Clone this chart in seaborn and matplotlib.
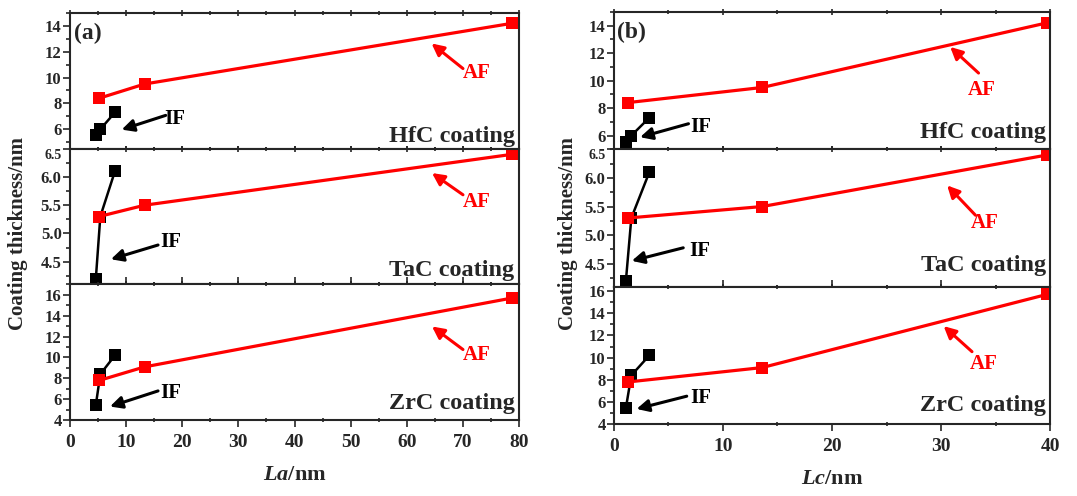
import numpy as np
import pandas as pd
import seaborn as sns
import matplotlib.pyplot as plt
from matplotlib.ticker import MultipleLocator

# === Data ===
la_if = [4.6, 5.4, 8.0]
la_af = [5.2, 13.3, 78.8]
lc_if = [1.1, 1.6, 3.25]
lc_af = [1.3, 13.6, 39.7]

hfc_if = [5.55, 6.0, 7.3]
hfc_af = [8.4, 9.5, 14.2]
tac_if = [4.2, 5.3, 6.1]
tac_af = [5.3, 5.5, 6.4]
zrc_if = [5.45, 8.4, 10.2]
zrc_af = [7.8, 9.1, 15.7]

coatings = ["HfC coating", "TaC coating", "ZrC coating"]
if_series = [hfc_if, tac_if, zrc_if]
af_series = [hfc_af, tac_af, zrc_af]

# === Style ===
sns.set_style("ticks")
plt.rcParams['font.family'] = ['Liberation Serif', 'DejaVu Serif']
plt.rcParams['font.weight'] = 'bold'
plt.rcParams['mathtext.fontset'] = 'custom'
plt.rcParams['mathtext.rm'] = 'Liberation Serif:bold'
plt.rcParams['mathtext.it'] = 'Liberation Serif:italic:bold'
plt.rcParams['mathtext.bf'] = 'Liberation Serif:bold'

RED = "#ff0000"

# per-panel layout: ylim, major, minor (a / b)
ylims_a = [(4.5, 15), (4.1, 6.5), (4, 17)]
ylims_b = [(5, 15), (4.1, 6.5), (4, 16.4)]
ymajor = [2, 0.5, 2]
yminor = [1, 0.25, 1]

# annotation positions in axes fraction: (text, tail, head)
ann_a = [
    dict(af=((0.906, 0.56), (0.875, 0.59), (0.805, 0.775)),
         iff=((0.234, 0.22), (0.213, 0.245), (0.115, 0.14)), lab_y=0.09),
    dict(af=((0.906, 0.61), (0.875, 0.66), (0.806, 0.82)),
         iff=((0.225, 0.31), (0.196, 0.29), (0.091, 0.185)), lab_y=0.105),
    dict(af=((0.906, 0.48), (0.875, 0.52), (0.806, 0.69)),
         iff=((0.225, 0.20), (0.196, 0.215), (0.089, 0.10)), lab_y=0.125),
]
ann_b = [
    dict(af=((0.844, 0.43), (0.836, 0.555), (0.771, 0.745)),
         iff=((0.2, 0.16), (0.171, 0.186), (0.06, 0.088)), lab_y=0.12),
    dict(af=((0.851, 0.46), (0.829, 0.52), (0.764, 0.737)),
         iff=((0.197, 0.26), (0.159, 0.283), (0.041, 0.188)), lab_y=0.155),
    dict(af=((0.848, 0.435), (0.821, 0.527), (0.756, 0.713)),
         iff=((0.2, 0.19), (0.167, 0.203), (0.052, 0.11)), lab_y=0.135),
]


def draw_column(fig, rect, xs_if, xs_af, xlim, ylims, anns, tag, xlabel, ylabel_x):
    left, right, bottom, top = rect
    gs = fig.add_gridspec(3, 1, left=left, right=right, bottom=bottom, top=top, hspace=0)
    axes = [fig.add_subplot(gs[i]) for i in range(3)]
    for i, ax in enumerate(axes):
        sns.lineplot(x=xs_if, y=if_series[i], ax=ax, color="black", marker="s",
                     markersize=8.5, markeredgewidth=0, linewidth=1.8)
        sns.lineplot(x=xs_af, y=af_series[i], ax=ax, color=RED, marker="s",
                     markersize=8.5, markeredgewidth=0, linewidth=2.3)
        ax.set_xlim(*xlim)
        ax.set_ylim(*ylims[i])
        ax.xaxis.set_major_locator(MultipleLocator(10))
        ax.xaxis.set_minor_locator(MultipleLocator(5))
        ax.yaxis.set_major_locator(MultipleLocator(ymajor[i]))
        ax.yaxis.set_minor_locator(MultipleLocator(yminor[i]))
        for sp in ax.spines.values():
            sp.set_visible(True)
            sp.set_linewidth(1.5)
        ax.tick_params(axis="y", which="both", left=True, right=False, direction="out", width=1.2)
        ax.tick_params(axis="y", which="major", length=5, labelsize=12, pad=1)
        ax.tick_params(axis="y", which="minor", length=3)
        ax.tick_params(axis="x", which="both", bottom=True, top=True, direction="inout", width=1.2)
        ax.tick_params(axis="x", which="major", length=5)
        ax.tick_params(axis="x", which="minor", length=3)
        ax.set_xlabel("")
        ax.set_ylabel("")
        if i < 2:
            ax.tick_params(axis="x", labelbottom=False)
        else:
            ax.tick_params(axis="x", labelsize=14, direction="out", pad=5)

        a = anns[i]
        ax.text(*a["af"][0], "AF", transform=ax.transAxes, color=RED, fontsize=15,
                fontweight="bold", ha="center", va="center")
        ax.annotate("", xy=a["af"][2], xytext=a["af"][1], xycoords="axes fraction",
                    arrowprops=dict(arrowstyle="-|>", color=RED, lw=2.2, mutation_scale=18,
                                    shrinkA=0, shrinkB=0))
        ax.text(*a["iff"][0], "IF", transform=ax.transAxes, color="black", fontsize=15,
                fontweight="bold", ha="center", va="center")
        ax.annotate("", xy=a["iff"][2], xytext=a["iff"][1], xycoords="axes fraction",
                    arrowprops=dict(arrowstyle="-|>", color="black", lw=2.2, mutation_scale=18,
                                    shrinkA=0, shrinkB=0))
        ax.text(0.99, a["lab_y"], coatings[i], transform=ax.transAxes, fontsize=17.5,
                fontweight="bold", ha="right", va="center")

    axes[0].text(0.008, 0.85, tag, transform=axes[0].transAxes, fontsize=17,
                 fontweight="bold", ha="left", va="center")
    axes[2].set_xlabel(xlabel, fontsize=16, fontweight="bold", labelpad=10)
    fig.text(ylabel_x, 0.53, "Coating thickness/nm", rotation=90, fontsize=15,
             fontweight="bold", ha="center", va="center")
    return axes


fig = plt.figure(figsize=(10.77, 4.96), dpi=100)
cols = [
    draw_column(fig, (0.065, 0.482, 0.153, 0.974), la_if, la_af, (0, 80), ylims_a, ann_a,
                "(a)", r"$\mathit{La}$/nm", 0.017),
    draw_column(fig, (0.570, 0.975, 0.145, 0.976), lc_if, lc_af, (0, 40), ylims_b, ann_b,
                "(b)", r"$\mathit{Lc}$/nm", 0.527),
]

# the top "6.5" label of the TaC panels sits on the panel border: draw it smaller
fig.canvas.draw()
for axes in cols:
    for lab in axes[1].get_yticklabels():
        if lab.get_text() == "6.5":
            lab.set_fontsize(10)
            lab.set_verticalalignment("top")

plt.savefig("out.png", dpi=100)
